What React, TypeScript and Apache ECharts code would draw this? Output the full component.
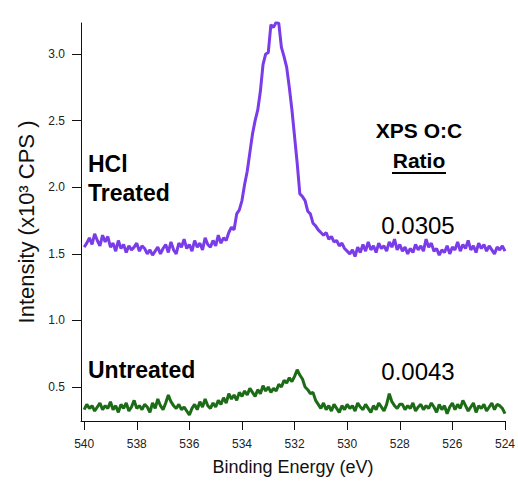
import React, { useEffect, useRef } from "react";
import * as echarts from "echarts";

const FONT = "'Liberation Sans', Arial, sans-serif";

const xTicks = [524, 526, 528, 530, 532, 534, 536, 538, 540];
const yTicks = [0.5, 1.0, 1.5, 2.0, 2.5, 3.0];

// sampled every 0.1 eV from 540.0 down to 524.0
const hclTreated = [
  1.55, 1.58, 1.62, 1.57, 1.65, 1.60, 1.56, 1.64, 1.59, 1.63, 1.55,
  1.58, 1.52, 1.60, 1.54, 1.57, 1.51, 1.56, 1.53, 1.55, 1.58,
  1.52, 1.56, 1.54, 1.50, 1.53, 1.49, 1.52, 1.55, 1.50, 1.54,
  1.57, 1.51, 1.59, 1.53, 1.50, 1.58, 1.55, 1.61, 1.54, 1.57,
  1.52, 1.60, 1.55, 1.58, 1.53, 1.62, 1.57, 1.55, 1.60, 1.56,
  1.64, 1.58, 1.62, 1.60, 1.66, 1.70, 1.68, 1.80, 1.83, 1.90,
  2.02, 2.12, 2.26, 2.40, 2.50, 2.58, 2.72, 2.92, 3.00, 3.01,
  3.22, 3.20, 3.24, 3.23, 3.05, 2.98, 2.90, 2.75, 2.58, 2.38,
  2.18, 1.95, 1.93, 1.90, 1.82, 1.80, 1.73, 1.71, 1.68, 1.66,
  1.64, 1.66, 1.61, 1.63, 1.59, 1.60, 1.56, 1.58, 1.54, 1.52,
  1.50, 1.53, 1.48, 1.55, 1.51, 1.57, 1.52, 1.59, 1.53, 1.56,
  1.51, 1.58, 1.54, 1.56, 1.52, 1.59, 1.55, 1.61, 1.53, 1.57,
  1.52, 1.55, 1.50, 1.54, 1.51, 1.57, 1.53, 1.56, 1.52, 1.61,
  1.55, 1.58, 1.52, 1.54, 1.49, 1.53, 1.51, 1.56, 1.50, 1.55,
  1.53, 1.59, 1.52, 1.57, 1.54, 1.60, 1.53, 1.56, 1.51, 1.58,
  1.54, 1.57, 1.52, 1.56, 1.53, 1.50, 1.55, 1.53, 1.56, 1.52,
];

const untreated = [
  0.33, 0.37, 0.34, 0.36, 0.32, 0.35, 0.38, 0.33, 0.36, 0.34, 0.39,
  0.33, 0.36, 0.31, 0.37, 0.34, 0.38, 0.32, 0.35, 0.40, 0.34,
  0.36, 0.33, 0.37, 0.35, 0.31, 0.38, 0.34, 0.41, 0.36, 0.33,
  0.38, 0.44, 0.39, 0.36, 0.34, 0.37, 0.33, 0.35, 0.32, 0.29,
  0.34, 0.37, 0.33, 0.39, 0.35, 0.41, 0.36, 0.34, 0.38, 0.35,
  0.40, 0.37, 0.42, 0.38, 0.45, 0.41, 0.44, 0.40, 0.46, 0.43,
  0.47, 0.44, 0.49, 0.46, 0.43, 0.48, 0.45, 0.51, 0.47, 0.50,
  0.46, 0.49, 0.47, 0.52, 0.50, 0.55, 0.53, 0.57, 0.54, 0.58,
  0.63, 0.59, 0.56, 0.50, 0.48, 0.45, 0.46, 0.40, 0.37, 0.34,
  0.38, 0.33, 0.36, 0.32, 0.37, 0.34, 0.31, 0.36, 0.33, 0.37,
  0.34, 0.36, 0.32, 0.38, 0.35, 0.33, 0.37, 0.34, 0.31, 0.36,
  0.33, 0.38, 0.35, 0.32, 0.37, 0.45, 0.39, 0.36, 0.34, 0.37,
  0.37, 0.33, 0.36, 0.34, 0.38, 0.32, 0.35, 0.37, 0.33, 0.36,
  0.34, 0.38, 0.35, 0.31, 0.37, 0.33, 0.36, 0.30, 0.35, 0.38,
  0.33, 0.37, 0.34, 0.40, 0.36, 0.32, 0.35, 0.38, 0.31, 0.36,
  0.34, 0.37, 0.32, 0.35, 0.38, 0.33, 0.37, 0.36, 0.34, 0.30,
];

const START_EV = 540;
const STEP_EV = 0.1;
const energies = hclTreated.map((_, i) => Number((START_EV - i * STEP_EV).toFixed(1)));

const seriesNames = ["HCl Treated", "Untreated"];
const ratios = ["0.0305", "0.0043"];

export default function App() {
  const ref = useRef<HTMLDivElement>(null);
  useEffect(() => {
    if (!ref.current) return;
    const chart = echarts.init(ref.current, null, { renderer: "svg" });
    const axisColor = "#111";
    chart.setOption({
      animation: false,
      backgroundColor: "#fff",
      grid: { left: 81, right: 12, top: 23, bottom: 63 },
      xAxis: {
        type: "value",
        min: 524,
        max: 540.12,
        inverse: true,
        axisLine: { show: true, lineStyle: { color: axisColor, width: 1 } },
        axisTick: { show: true, customValues: xTicks, length: 9, lineStyle: { color: axisColor } },
        axisLabel: {
          customValues: xTicks,
          margin: 17,
          color: "#222",
          fontSize: 12,
          fontFamily: FONT,
        },
        splitLine: { show: false },
        name: "Binding Energy (eV)",
        nameLocation: "middle",
        nameGap: 37,
        nameTextStyle: { fontSize: 18, color: "#111", fontFamily: FONT },
      },
      yAxis: {
        type: "value",
        min: 0.245,
        max: 3.233,
        axisLine: { show: true, lineStyle: { color: axisColor, width: 1 } },
        axisTick: { show: true, customValues: yTicks, length: 9, lineStyle: { color: axisColor } },
        axisLabel: {
          customValues: yTicks,
          formatter: (v: number) => v.toFixed(1),
          margin: 16,
          color: "#222",
          fontSize: 12,
          fontFamily: FONT,
        },
        splitLine: { show: false },
        name: "Intensity (x10³ CPS )",
        nameLocation: "middle",
        nameGap: 43,
        nameRotate: 90,
        nameTextStyle: { fontSize: 22, color: "#111", fontFamily: FONT },
      },
      series: [
        {
          name: seriesNames[0],
          type: "line",
          data: energies.map((e, i) => [e, hclTreated[i]]),
          showSymbol: false,
          lineStyle: { color: "#7A3BE8", width: 3 },
          itemStyle: { color: "#7A3BE8" },
        },
        {
          name: seriesNames[1],
          type: "line",
          data: energies.map((e, i) => [e, untreated[i]]),
          showSymbol: false,
          lineStyle: { color: "#1C6B16", width: 3 },
          itemStyle: { color: "#1C6B16" },
        },
      ],
      graphic: [
        { type: "text", x: 88, y: 164, style: { text: "HCl", font: `bold 23px ${FONT}`, fill: "#000", textVerticalAlign: "middle" } },
        { type: "text", x: 88, y: 193, style: { text: "Treated", font: `bold 23px ${FONT}`, fill: "#000", textVerticalAlign: "middle" } },
        { type: "text", x: 88, y: 370, style: { text: seriesNames[1], font: `bold 23px ${FONT}`, fill: "#000", textVerticalAlign: "middle" } },
        { type: "text", x: 419, y: 130, style: { text: "XPS O:C", font: `bold 21px ${FONT}`, fill: "#000", textAlign: "center", textVerticalAlign: "middle" } },
        { type: "text", x: 419, y: 160, style: { text: "Ratio", font: `bold 21px ${FONT}`, fill: "#000", textAlign: "center", textVerticalAlign: "middle" } },
        { type: "line", shape: { x1: 392, y1: 173, x2: 446, y2: 173 }, style: { stroke: "#000", lineWidth: 2 } },
        { type: "text", x: 418, y: 225, style: { text: ratios[0], font: `24px ${FONT}`, fill: "#000", textAlign: "center", textVerticalAlign: "middle" } },
        { type: "text", x: 418, y: 371, style: { text: ratios[1], font: `24px ${FONT}`, fill: "#000", textAlign: "center", textVerticalAlign: "middle" } },
      ],
    });
    return () => chart.dispose();
  }, []);
  return <div ref={ref} style={{ width: 518, height: 484, position: "absolute", left: 0, top: 0 }} />;
}
